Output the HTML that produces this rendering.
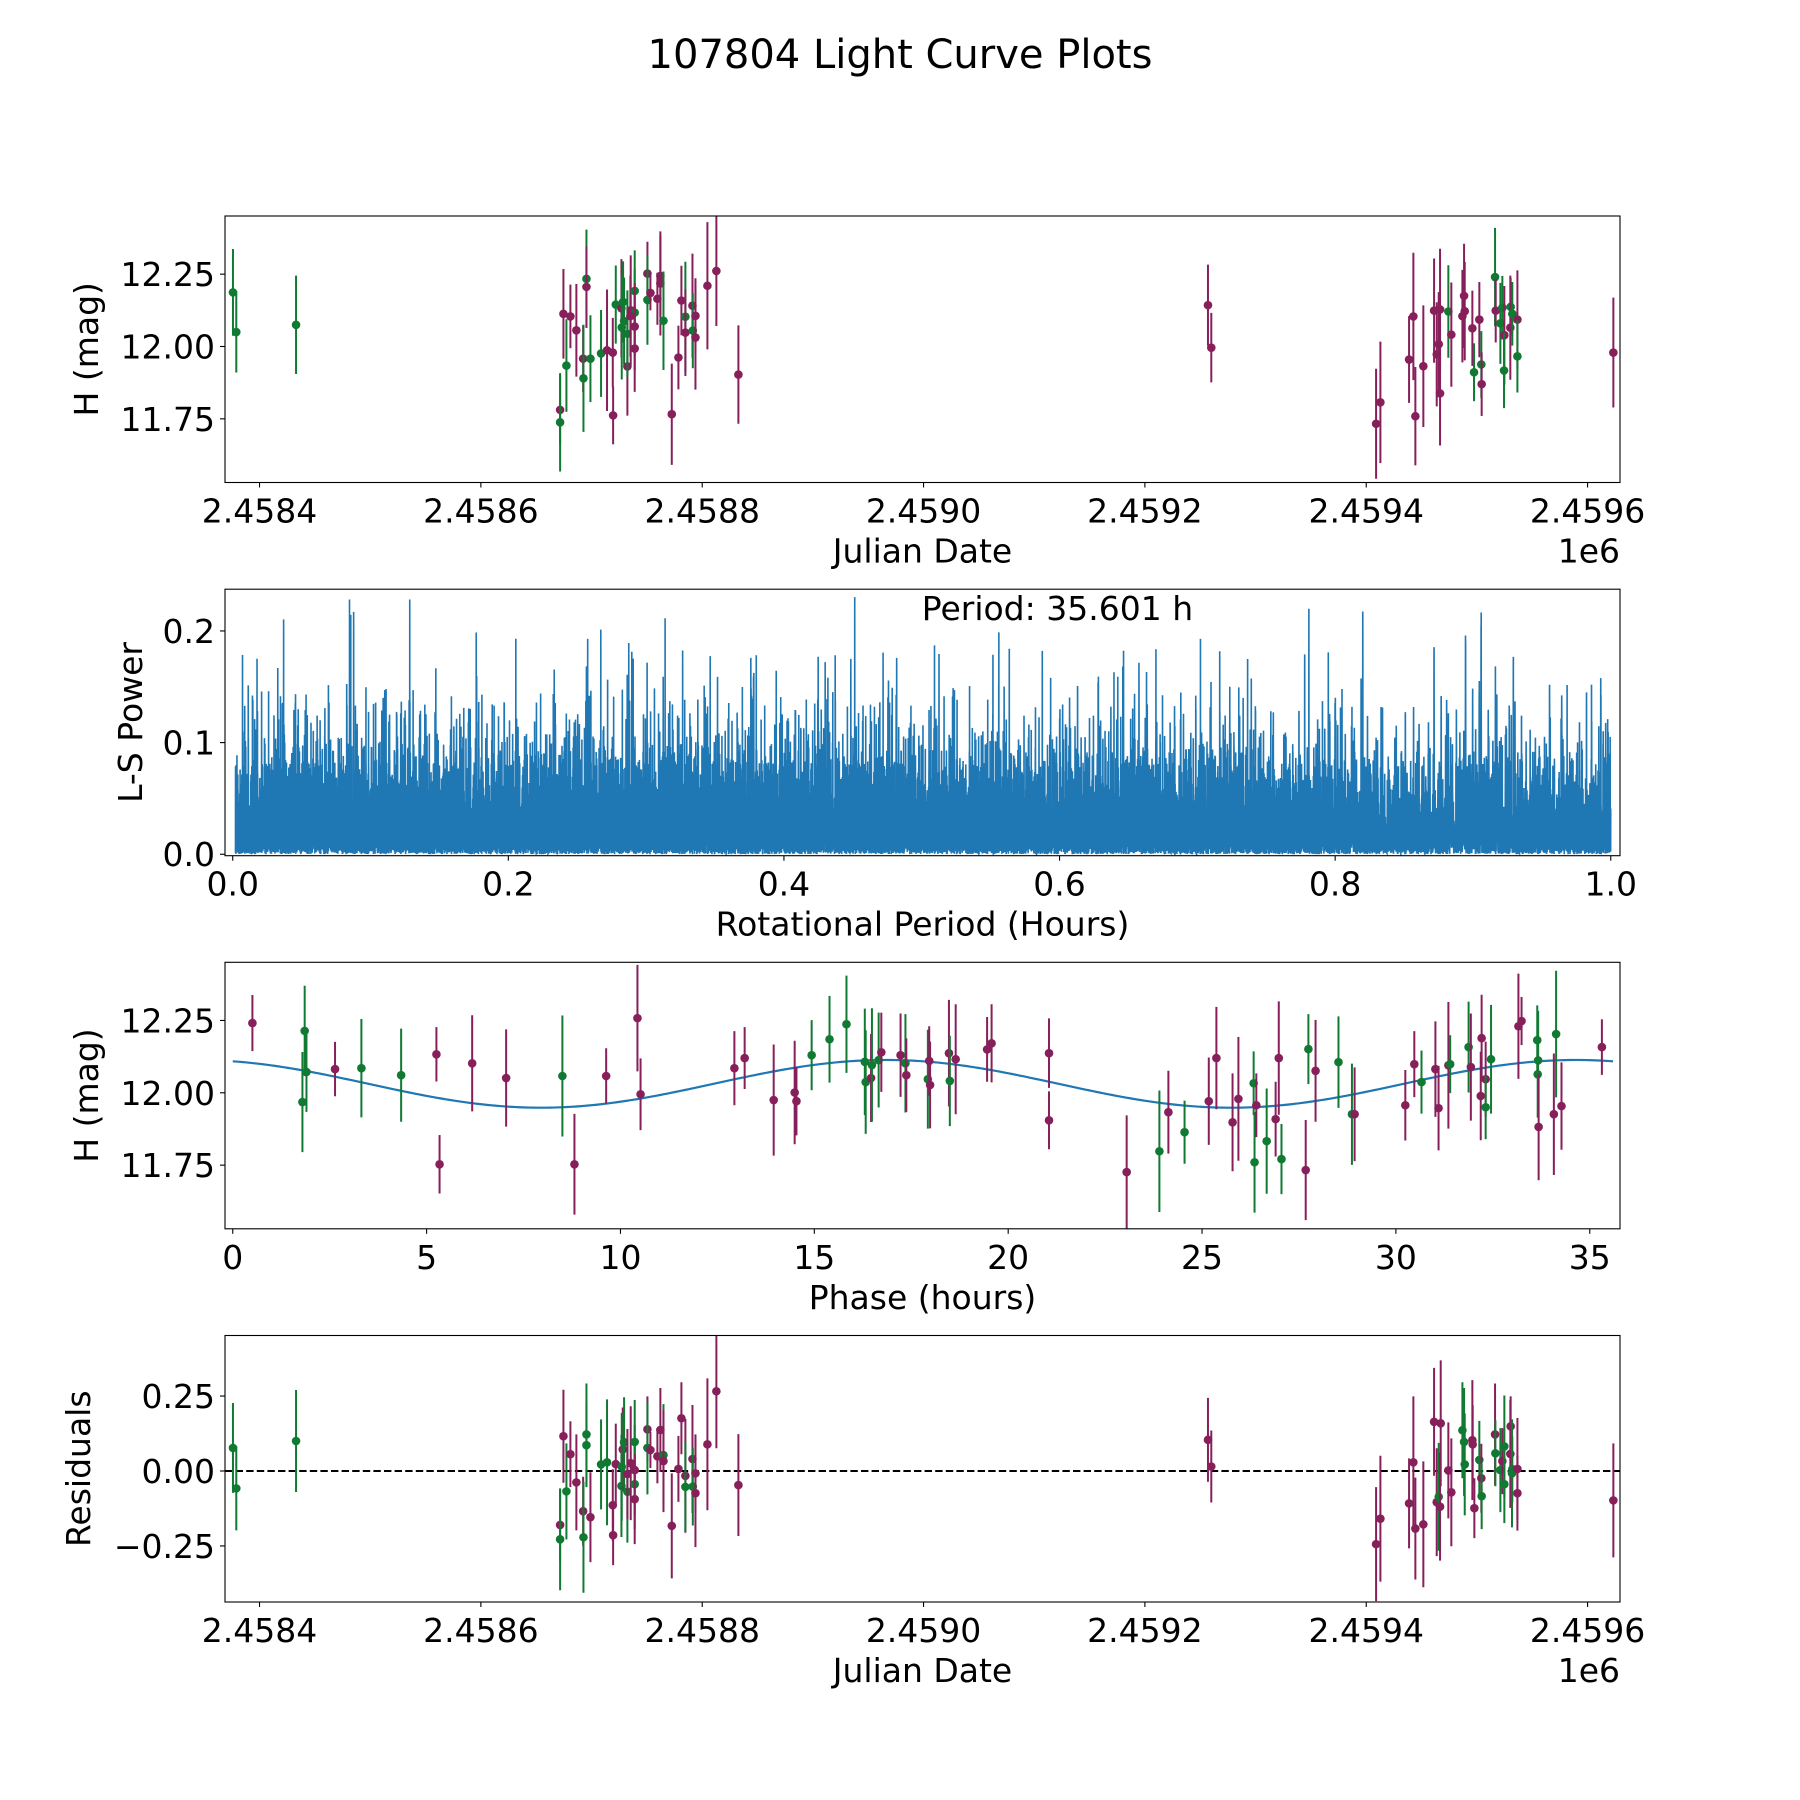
<!DOCTYPE html>
<html><head><meta charset="utf-8"><title>107804 Light Curve Plots</title>
<style>html,body{margin:0;padding:0;background:#fff}svg{display:block}text{font-family:"DejaVu Sans","Liberation Sans",sans-serif}</style>
</head><body>
<svg id="fig" width="1800" height="1800" viewBox="0 0 1800 1800" xmlns="http://www.w3.org/2000/svg">
<rect width="1800" height="1800" fill="#fff"/>
<text x="900" y="68" font-size="40" text-anchor="middle">107804 Light Curve Plots</text>
</svg>
<script>
// ---- Panel 1: light curve data ----
const lcJd=[2458376,2458379,2458433,2458671.6,2458671.6,2458674.6,2458677.3,2458680.9,2458686.3,2458692.4,2458692.7,2458695.4,2458695.4,2458699.0,2458708.6,2458714.0,2458719.2,2458719.5,2458721.9,2458727.0,2458728.5,2458727.3,2458729.4,2458732.4,2458732.4,2458735.4,2458739.0,2458735.1,2458739.0,2458739.0,2458739.0,2458750.5,2458750.5,2458753.2,2458759.5,2458762.2,2458762.2,2458765.0,2458772.5,2458778.5,2458781.2,2458784.8,2458784.8,2458791.2,2458791.5,2458793.9,2458793.9,2458804.7,2458812.8,2458832.7,2459257,2459260,2459408.9,2459412.8,2459438.7,2459442.6,2459444.4,2459451.6,2459461.3,2459463.7,2459465.5,2459466.7,2459466.7,2459474.2,2459476.9,2459488.4,2459486.9,2459489.0,2459495.9,2459497.4,2459502.2,2459504.0,2459504.3,2459516.4,2459517.0,2459521.2,2459523.0,2459524.8,2459524.5,2459530.5,2459530.2,2459532.0,2459536.6,2459536.6,2459623.3];
const lcMag=[12.187,12.05,12.075,11.781,11.738,12.113,11.934,12.104,12.056,11.958,11.89,12.234,12.206,11.958,11.976,11.987,11.979,11.762,12.145,12.132,12.154,12.066,12.088,11.931,12.044,12.125,12.117,12.105,12.192,12.069,11.993,12.252,12.161,12.185,12.165,12.244,12.218,12.089,11.766,11.962,12.159,12.103,12.048,12.141,12.055,12.106,12.031,12.21,12.261,11.903,12.143,11.996,11.733,11.807,11.955,12.104,11.759,11.932,12.124,11.973,12.008,12.128,11.838,12.121,12.041,12.175,12.105,12.122,12.063,11.911,12.093,11.938,11.87,12.24,12.124,12.08,12.134,12.039,11.917,12.137,12.065,12.113,12.093,11.966,11.979];
const lcErr=[.15,.14,.17,.12,.17,.155,.16,.11,.16,.115,.185,.17,.14,.15,.15,.21,.12,.10,.135,.17,.14,.18,.15,.17,.15,.19,.15,.14,.14,.15,.15,.11,.155,.06,.09,.14,.18,.17,.175,.11,.12,.19,.15,.18,.13,.13,.18,.22,.19,.17,.14,.12,.19,.21,.15,.22,.17,.21,.18,.18,.18,.21,.18,.16,.18,.18,.16,.17,.13,.10,.13,.115,.11,.17,.11,.14,.11,.17,.13,.10,.18,.11,.17,.125,.19];
const lcBand="gggpgpgpppggpggpppgpgggpgpgpgpppgppppgpppgppgppppppppppppppppppgpppppgpgpgpggpggpgpgp".split("");
// ---- Panel 2: periodogram settings ----
const periodHours=35.601;
const lsPeriodRange=[0.002,1.0];
const lsSamples=24000;
// ---- Panel 3: phased data ----
const phHours=[0.507,1.855,1.901,1.797,2.638,3.318,4.343,5.253,5.334,6.175,7.051,8.502,8.813,9.631,10.438,10.518,12.938,13.203,13.952,14.493,14.539,14.931,15.392,15.829,16.302,16.325,16.463,16.486,16.659,16.728,17.224,17.350,17.373,17.928,17.963,17.986,18.472,18.495,18.646,19.456,19.572,21.053,21.053,23.056,23.900,24.132,24.549,25.174,25.370,25.787,25.938,26.331,26.354,26.400,26.667,26.898,26.979,27.049,27.674,27.743,27.928,28.519,28.866,28.935,30.243,30.475,30.660,31.019,31.100,31.354,31.400,31.875,31.933,32.211,32.188,32.315,32.315,32.454,33.160,33.241,33.646,33.669,33.657,33.681,34.074,34.132,34.271,35.313];
const phMag=[12.241,12.214,12.072,11.968,12.082,12.085,12.061,12.133,11.753,12.102,12.051,12.058,11.753,12.058,12.258,11.995,12.085,12.120,11.975,12.001,11.971,12.130,12.185,12.237,12.107,12.037,12.051,12.096,12.113,12.140,12.130,12.102,12.061,12.047,12.110,12.027,12.137,12.041,12.116,12.150,12.171,12.137,11.905,11.726,11.798,11.933,11.864,11.971,12.120,11.898,11.979,12.033,11.760,11.957,11.833,11.909,12.120,11.771,11.733,12.151,12.076,12.106,11.926,11.926,11.957,12.099,12.037,12.082,11.947,12.095,12.099,12.158,12.089,12.189,11.989,12.047,11.950,12.116,12.230,12.248,12.182,12.112,12.064,11.882,11.926,12.203,11.954,12.158];
const phErr=[.097,.156,.138,.173,.094,.170,.161,.094,.101,.166,.168,.209,.174,.096,.184,.124,.128,.107,.192,.179,.118,.121,.150,.168,.184,.179,.152,.196,.164,.137,.144,.170,.127,.171,.12,.15,.184,.156,.19,.112,.135,.12,.10,.196,.21,.143,.109,.151,.177,.169,.214,.11,.174,.11,.182,.129,.196,.121,.173,.121,.176,.158,.175,.162,.122,.114,.109,.165,.146,.219,.1,.157,.185,.15,.153,.13,.11,.188,.182,.083,.12,.171,.15,.184,.21,.219,.151,.096];
const phBand="pgggpggppppgpppppppppgggggpggppgpgpppgppppppgpgppppggpgppgpgpggpppgpppggppppggppgggppgp".split("");
// fitted model (two-peaked sinusoid over the rotation period)
const fitMean=12.031, fitAmp=0.0825, fitPeak=16.85;
// ---- Panel 4: residuals ----
const resJd=[2458376,2458379,2458433,2458671.6,2458671.6,2458674.6,2458677.3,2458680.9,2458686.3,2458692.4,2458692.7,2458695.4,2458695.4,2458699.0,2458708.6,2458714.0,2458719.2,2458719.5,2458721.9,2458727.0,2458728.2,2458727.3,2458729.4,2458732.4,2458732.4,2458735.4,2458739.0,2458739.0,2458739.0,2458739.0,2458750.5,2458750.5,2458753.2,2458759.5,2458762.2,2458765.0,2458765.0,2458772.5,2458778.5,2458781.2,2458784.8,2458784.8,2458791.2,2458791.5,2458793.9,2458793.9,2458804.7,2458812.8,2458832.7,2459257,2459260,2459408.9,2459412.8,2459438.7,2459442.6,2459444.4,2459451.6,2459461.3,2459463.7,2459465.5,2459467.3,2459466.7,2459474.2,2459476.9,2459486.9,2459488.4,2459489.0,2459495.9,2459496.2,2459497.7,2459502.2,2459504.0,2459504.3,2459516.4,2459516.7,2459521.2,2459523.0,2459524.8,2459524.8,2459530.2,2459530.5,2459532.0,2459531.7,2459536.6,2459536.6,2459623.3];
const resVal=[.077,-.058,.10,-.18,-.228,.116,-.068,.056,-.038,-.134,-.221,.122,.086,-.154,.022,.029,-.114,-.214,.023,-.05,.072,.014,.096,-.069,-.01,.026,.003,-.044,.097,-.094,.139,.077,.07,.049,.137,.053,.033,-.183,.007,.176,-.016,-.053,.04,-.052,-.008,-.074,.089,.266,-.047,.104,.015,-.244,-.159,-.108,.029,-.192,-.178,.164,-.104,-.086,.159,-.119,.002,-.071,.136,.097,.022,.103,.089,-.124,.037,-.024,-.084,.122,.059,.003,.033,.082,-.044,.057,.149,.006,-.008,.007,-.074,-.098];
const resErr=[.15,.14,.17,.12,.17,.155,.16,.11,.16,.115,.185,.17,.14,.15,.15,.21,.12,.10,.135,.17,.14,.18,.15,.17,.15,.19,.15,.15,.14,.15,.11,.155,.06,.09,.14,.17,.17,.175,.11,.12,.19,.15,.18,.13,.13,.18,.22,.19,.17,.14,.12,.19,.21,.15,.22,.17,.21,.18,.18,.18,.21,.18,.16,.18,.16,.18,.17,.2,.13,.10,.13,.115,.11,.17,.11,.14,.11,.17,.13,.18,.10,.11,.18,.17,.125,.19];
const resBand="gggpgpgpppgggpggpppgpgggpppggppgpppgpppppgpgpppppppppppppppgppppgggpppgpgpggpggppggpp".split("");

const svg=document.getElementById('fig');
const NS='http://www.w3.org/2000/svg';
const PURPLE='#87205a', GREEN='#107a33', BLUE='#1f77b4';
function el(tag,attrs,parent){const e=document.createElementNS(NS,tag);for(const k in attrs)e.setAttribute(k,attrs[k]);(parent||svg).appendChild(e);return e;}
function txt(s,attrs,parent){const t=el('text',attrs,parent);t.textContent=s;return t;}
const L=225,R=1620,H=266.5;
const tops=[216,589.2,962.3,1335.5];
function lin(d0,d1,p0,p1){return v=>p0+(v-d0)/(d1-d0)*(p1-p0);}
const FS=33;

function axesFrame(g,top,xs,xt,xlab,ys,yt,ylab,ylx,offsetText){
  const bot=top+H;
  xt.forEach(t=>{const x=xs(t.v);
    const tk=el('line',{x1:x,x2:x,y1:bot,y2:bot+5,stroke:'#000','stroke-width':1.1},g);
    
    
    const tl=txt(t.l,{x:x,y:bot+40,'font-size':FS,'text-anchor':'middle'},g);
    
    });
  yt.forEach(t=>{const y=ys(t.v);
    const tk=el('line',{x1:L-5,x2:L,y1:y,y2:y,stroke:'#000','stroke-width':1.1},g);
    
    
    const tl=txt(t.l,{x:L-10,y:y+12,'font-size':FS,'text-anchor':'end'},g);
    
    });
  const xl=txt(xlab,{x:(L+R)/2,y:bot+80,'font-size':FS,'text-anchor':'middle'},g);
  
  
  const yl=txt(ylab,{x:0,y:0,'font-size':FS,'text-anchor':'middle',transform:`translate(${ylx},${top+H/2}) rotate(-90)`},g);
  
  
  if(offsetText){const o=txt(offsetText,{x:R,y:bot+80,'font-size':FS,'text-anchor':'end'},g);
    
    }
  const fr=el('rect',{x:L,y:top,width:R-L,height:H,fill:'none',stroke:'#000','stroke-width':1.1},g);
  
  
}
function clip(id,top){const d=el('defs',{});const c=el('clipPath',{id:id},d);el('rect',{x:L,y:top,width:R-L,height:H},c);}
function errPoints(g,xsArr,ysArr,esArr,bands,xs,ys,name){
  xsArr.forEach((v,i)=>{const col=bands[i]==='g'?GREEN:PURPLE;const x=xs(v);
    const bar=el('line',{x1:x,x2:x,y1:ys(ysArr[i]-esArr[i]),y2:ys(ysArr[i]+esArr[i]),stroke:col,'stroke-width':2},g);
    
    
    const c=el('circle',{cx:x,cy:ys(ysArr[i]),r:4.3,fill:col},g);
    
    });
}
const jdTicks=[2458400,2458600,2458800,2459000,2459200,2459400,2459600].map(v=>({v:v,l:(v/1e6).toFixed(4)}));
const magTicks=[11.75,12.00,12.25].map(v=>({v:v,l:v.toFixed(2)}));
const jdLim=[2458368.8,2459629.3], magLim=[11.530,12.451];

// Panel 1
(function(){const top=tops[0];const g=el('g',{});
 clip('c1',top);const xs=lin(jdLim[0],jdLim[1],L,R),ys=lin(magLim[0],magLim[1],top+H,top);
 const pg=el('g',{'clip-path':'url(#c1)'},g);errPoints(pg,lcJd,lcMag,lcErr,lcBand,xs,ys,'light-curve');
 axesFrame(g,top,xs,jdTicks,'Julian Date',ys,magTicks,'H (mag)',98,'1e6');})();

// Panel 2: Lomb-Scargle computed from light curve
(function(){const top=tops[1];const g=el('g',{});
 clip('c2',top);const xs=lin(-0.0056,1.0067,L,R),ys=lin(-0.0013,0.2374,top+H,top);
 const n=lcJd.length;const t0=lcJd[0];const t=lcJd.map(v=>v-t0);
 const mean=lcMag.reduce((a,b)=>a+b,0)/n;const y=lcMag.map(v=>v-mean);const yy=y.reduce((a,b)=>a+b*b,0);
 let d='';
 for(let k=0;k<lsSamples;k++){const p=lsPeriodRange[0]+k*(lsPeriodRange[1]-lsPeriodRange[0])/(lsSamples-1);
  const w=2*Math.PI*24/p;let s2=0,c2=0;for(let i=0;i<n;i++){s2+=Math.sin(2*w*t[i]);c2+=Math.cos(2*w*t[i]);}
  const tau=Math.atan2(s2,c2)/(2*w);let C=0,S=0,CC=0,SS=0;
  for(let i=0;i<n;i++){const a=w*(t[i]-tau);const c=Math.cos(a),s=Math.sin(a);C+=y[i]*c;S+=y[i]*s;CC+=c*c;SS+=s*s;}
  const pw=(C*C/CC+S*S/SS)/yy;d+=(k?'L':'M')+xs(p).toFixed(2)+' '+ys(pw).toFixed(2);}
 const pg=el('g',{'clip-path':'url(#c2)'},g);
 const path=el('path',{d:d,fill:'none',stroke:BLUE,'stroke-width':1.6},pg);
 
 
 const pt=txt('Period: '+periodHours.toFixed(3)+' h',{x:xs(0.5),y:top+31,'font-size':FS},g);
 
 
 axesFrame(g,top,xs,[0,0.2,0.4,0.6,0.8,1.0].map(v=>({v:v,l:v.toFixed(1)})),'Rotational Period (Hours)',ys,[0,0.1,0.2].map(v=>({v:v,l:v.toFixed(1)})),'L-S Power',142);})();

// Panel 3
(function(){const top=tops[2];const g=el('g',{});
 clip('c3',top);const xs=lin(-0.2,35.78,L,R),ys=lin(magLim[0],magLim[1],top+H,top);
 const pg=el('g',{'clip-path':'url(#c3)'},g);
 let d='';for(let k=0;k<=400;k++){const ph=k*periodHours/400;const m=fitMean+fitAmp*Math.cos(2*Math.PI*(ph-fitPeak)/(periodHours/2));d+=(k?'L':'M')+xs(ph).toFixed(2)+' '+ys(m).toFixed(2);}
 const fl=el('path',{d:d,fill:'none',stroke:BLUE,'stroke-width':2.2},pg);
 
 
 errPoints(pg,phHours,phMag,phErr,phBand,xs,ys,'phased');
 axesFrame(g,top,xs,[0,5,10,15,20,25,30,35].map(v=>({v:v,l:String(v)})),'Phase (hours)',ys,magTicks,'H (mag)',98);})();

// Panel 4
(function(){const top=tops[3];const g=el('g',{});
 clip('c4',top);const xs=lin(jdLim[0],jdLim[1],L,R),ys=lin(-0.437,0.452,top+H,top);
 const pg=el('g',{'clip-path':'url(#c4)'},g);
 const zl=el('line',{x1:L,x2:R,y1:ys(0),y2:ys(0),stroke:'#000','stroke-width':2,'stroke-dasharray':'7.4,3.2'},pg);
 
 
 errPoints(pg,resJd,resVal,resErr,resBand,xs,ys,'residual');
 axesFrame(g,top,xs,jdTicks,'Julian Date',ys,[-0.25,0,0.25].map(v=>({v:v,l:(v<0?'\u2212':'')+Math.abs(v).toFixed(2)})),'Residuals',90,'1e6');})();
</script>
</body></html>
